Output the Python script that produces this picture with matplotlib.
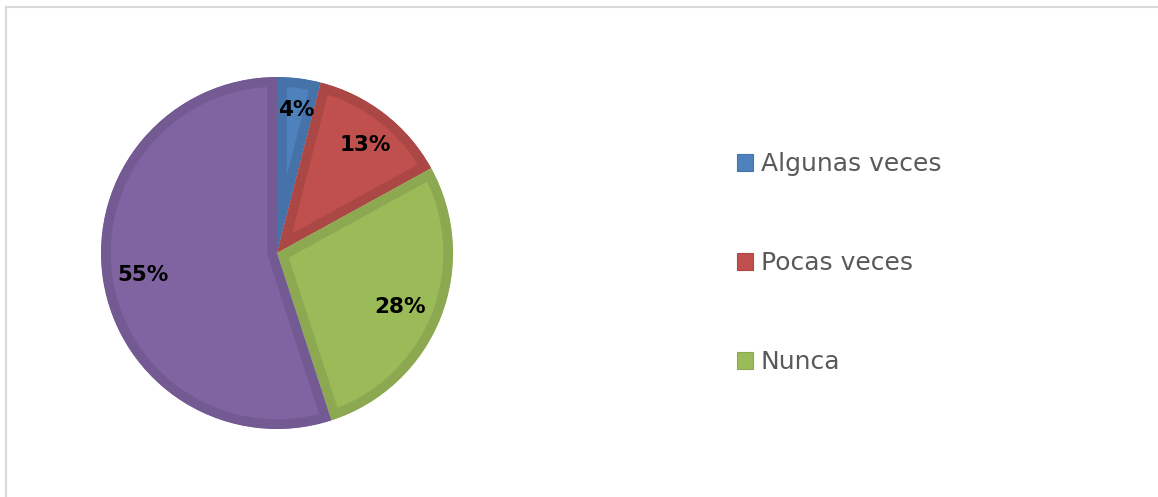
import matplotlib.pyplot as plt
from matplotlib.lines import Line2D
from matplotlib.patches import Patch

labels = ['Algunas veces', 'Pocas veces', 'Nunca', 'Siempre']
values = [4, 13, 28, 55]
colors = ['#4F81BD', '#C0504D', '#9BBB59', '#8064A2']
edges = ['#4573A9', '#AB4744', '#8CA952', '#735A93']
legend_n = 3  # only the first three entries are visible in the legend

W, H = 1158, 497
fig = plt.figure(figsize=(W / 100, H / 100), dpi=100)

# chart area border (only top and left visible)
fig.add_artist(Line2D([6 / W, 6 / W], [0, 1 - 7 / H], color='#D9D9D9', lw=1.5))
fig.add_artist(Line2D([6 / W, 1], [1 - 7 / H, 1 - 7 / H], color='#D9D9D9', lw=1.5))

# pie: center (277, 253), radius ~176 px
r = 176
ax = fig.add_axes([(277 - r) / W, 1 - (253 + r) / H, 2 * r / W, 2 * r / H])
wedges, texts = ax.pie(values, colors=colors, startangle=90, counterclock=False,
                       radius=1.0)
ax.set_xlim(-1, 1)
ax.set_ylim(-1, 1)
ax.set_aspect('equal')
ax.axis('off')

# inner darker stroke like the original (stroke clipped to the wedge)
for w, ec in zip(wedges, edges):
    w.set_edgecolor(ec)
    w.set_linewidth(14)
    w.set_joinstyle('miter')
    w.set_clip_on(True)
    w.set_clip_path(w)

# percentage labels
label_pos = [(296, 110), (365, 145), (400, 307), (143, 275)]
for v, (px, py) in zip(values, label_pos):
    x = (px - 277) / r
    y = -(py - 253) / r
    ax.text(x, y, f'{v}%', ha='center', va='center', fontsize=15.5,
            fontweight='bold', color='black', family='DejaVu Sans')

# legend
handles = [Patch(facecolor=colors[i], edgecolor=edges[i], linewidth=0.8)
           for i in range(legend_n)]
fig.legend(handles, labels[:legend_n], loc='upper left',
           bbox_to_anchor=(737 / W, 1 - 152 / H), frameon=False,
           fontsize=18, labelcolor='#595959', handlelength=0.65, handleheight=0.65,
           handletextpad=0.3, labelspacing=3.0, borderaxespad=0, borderpad=0)

fig.savefig('out.png', dpi=100)
